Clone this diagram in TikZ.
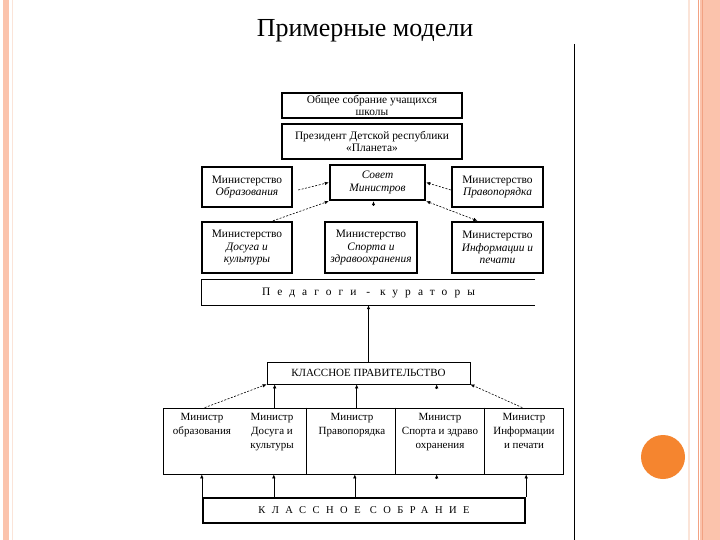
\documentclass[tikz,border=0pt]{standalone}
\usepackage{fontspec}
\setmainfont{Liberation Serif}
\usetikzlibrary{arrows.meta}
\definecolor{salmon}{HTML}{FBC3AC}
\definecolor{rimline}{HTML}{F2A283}
\definecolor{paleline}{HTML}{FBE4D8}
\definecolor{dotorange}{HTML}{F5852F}
\newcommand{\boxfont}{\fontsize{11.4}{12.8}\selectfont}
\newcommand{\cellfont}{\fontsize{11}{14}\selectfont}
\newcommand{\spaced}[1]{{\addfontfeature{LetterSpace=62}#1}}

\begin{document}
\begin{tikzpicture}[x=1pt, y=-1pt,
	bigbox/.style={draw, line width=2.4pt, align=center, inner sep=0pt, font=\boxfont},
	thinbox/.style={draw, line width=0.7pt, align=center, inner sep=0pt, font=\boxfont},
	celltext/.style={anchor=north, align=center, inner sep=0pt, font=\cellfont},
	arr/.style={-{Latex[length=4pt,width=3.5pt]}, line width=0.6pt},
	dasharr/.style={arr, dash pattern=on 2pt off 1.5pt}]

		\fill[white] (0,0) rectangle (720,540);
		\useasboundingbox (0,0) rectangle (720,540);
		% page rims
		\fill[salmon] (3,0) rectangle (9,540);
		\draw[paleline, line width=1pt] (12,0) -- (12,540);
		\draw[paleline, line width=2pt] (689,0) -- (689,540);
		\draw[rimline, line width=1pt] (698,0) -- (698,540);
		\fill[salmon] (700,0) rectangle (720,540);
		\draw[rimline, line width=0.8pt] (702.5,0) -- (702.5,540);
		\fill[dotorange] (663,457) circle (22);
		\draw[line width=0.8pt] (574,44) -- (574,540);

		\node (title) at (365,31) {\fontsize{26}{28}\selectfont Примерные модели};

		% school level
		\node[bigbox, minimum width=180, minimum height=25] (meeting) at (372,105.5) {Общее собрание учащихся\\школы};
		\node[bigbox, minimum width=180, minimum height=35] (president) at (372,141.5) {Президент Детской республики\\«Планета»};
		\node[bigbox, minimum width=90, minimum height=40] (obr) at (247,187) {Министерство\\\textit{Образования}};
		\node[bigbox, minimum width=95, minimum height=35] (sovet) at (377.5,182.5) {\textit{Совет}\\\textit{Министров}};
		\node[bigbox, minimum width=91, minimum height=40] (prav) at (497.5,187) {Министерство\\\textit{Правопорядка}};
		\node[bigbox, minimum width=90, minimum height=51] (dosug) at (247,247.5) {Министерство\\\textit{Досуга и}\\\textit{культуры}};
		\node[bigbox, minimum width=92, minimum height=51] (sport) at (371,247.5) {Министерство\\\textit{Спорта и}\\\textit{здравоохранения}};
		\node[bigbox, minimum width=91, minimum height=51] (inform) at (497.5,247.5) {Министерство\\\textit{Информации и}\\\textit{печати}};

		\draw[dasharr] ([xshift=5,yshift=-3]obr.east) -- (sovet.west);
		\draw[dasharr] ([xshift=26]dosug.north) -- (sovet.south west);
		\draw[dasharr] ([yshift=-3]prav.west) -- (sovet.east);
		\draw[dasharr, {Latex[length=4pt,width=3.5pt]}-{Latex[length=4pt,width=3.5pt]}] ([xshift=-20]inform.north) -- (sovet.south east);
		\draw[arr] ([xshift=-4,yshift=-5]sovet.south) -- ([xshift=-4]sovet.south);

		% curators
		\node[inner sep=0pt, minimum width=333, minimum height=25, font=\boxfont] (curators) at (368.5,292.5) {\spaced{Педагоги - кураторы}};
		\draw[line width=0.7pt] (curators.north east) -- (curators.north west) -- (curators.south west) -- (curators.south east);

		% class level
		\node[thinbox, minimum width=203, minimum height=22, font=\fontsize{11}{12}\selectfont] (gov) at (368.5,373) {КЛАССНОЕ ПРАВИТЕЛЬСТВО};
		\draw[arr] (gov.north) -- (gov.north |- curators.south);

		\node[draw, line width=0.7pt, minimum width=400, minimum height=66, inner sep=0pt] (ministers) at (363,441) {};
		\draw[line width=0.7pt] ([xshift=144]ministers.north west) -- ([xshift=144]ministers.south west);
		\draw[line width=0.7pt] ([xshift=233]ministers.north west) -- ([xshift=233]ministers.south west);
		\draw[line width=0.7pt] ([xshift=322]ministers.north west) -- ([xshift=322]ministers.south west);
		\node[celltext] (mobr) at (202,413) {Министр\\образования};
		\node[celltext] (mdosug) at (272,413) {Министр\\Досуга и\\культуры};
		\node[celltext] (mprav) at (352,413) {Министр\\Правопорядка};
		\node[celltext] (msport) at (440,413) {Министр\\Спорта и здраво\\охранения};
		\node[celltext] (minform) at (524,413) {Министр\\Информации\\и печати};

		\draw[dasharr] ([xshift=42]ministers.north west) -- (gov.south west);
		\draw[arr] ([xshift=112]ministers.north west) -- ([xshift=8]gov.south west);
		\draw[arr] ([xshift=194]ministers.north west) -- ([xshift=90]gov.south west);
		\draw[arr] ([xshift=170,yshift=-5]gov.south west) -- ([xshift=170]gov.south west);
		\draw[dasharr] ([xshift=-41]ministers.north east) -- (gov.south east);

		\node[bigbox, minimum width=322, minimum height=25, font=\fontsize{10.5}{11}\selectfont] (assembly) at (364,510.5) {\spaced{КЛАССНОЕ СОБРАНИЕ}};
		\draw[arr] (assembly.north west) -- (assembly.north west |- ministers.south);
		\draw[arr] ([xshift=72]assembly.north west) -- ([xshift=72]assembly.north west |- ministers.south);
		\draw[arr] ([xshift=153]assembly.north west) -- ([xshift=153]assembly.north west |- ministers.south);
		\draw[arr] ([xshift=274,yshift=-5]ministers.south west) -- ([xshift=274]ministers.south west);
		\draw[arr] (assembly.north east) -- (assembly.north east |- ministers.south);
\end{tikzpicture}
\end{document}
